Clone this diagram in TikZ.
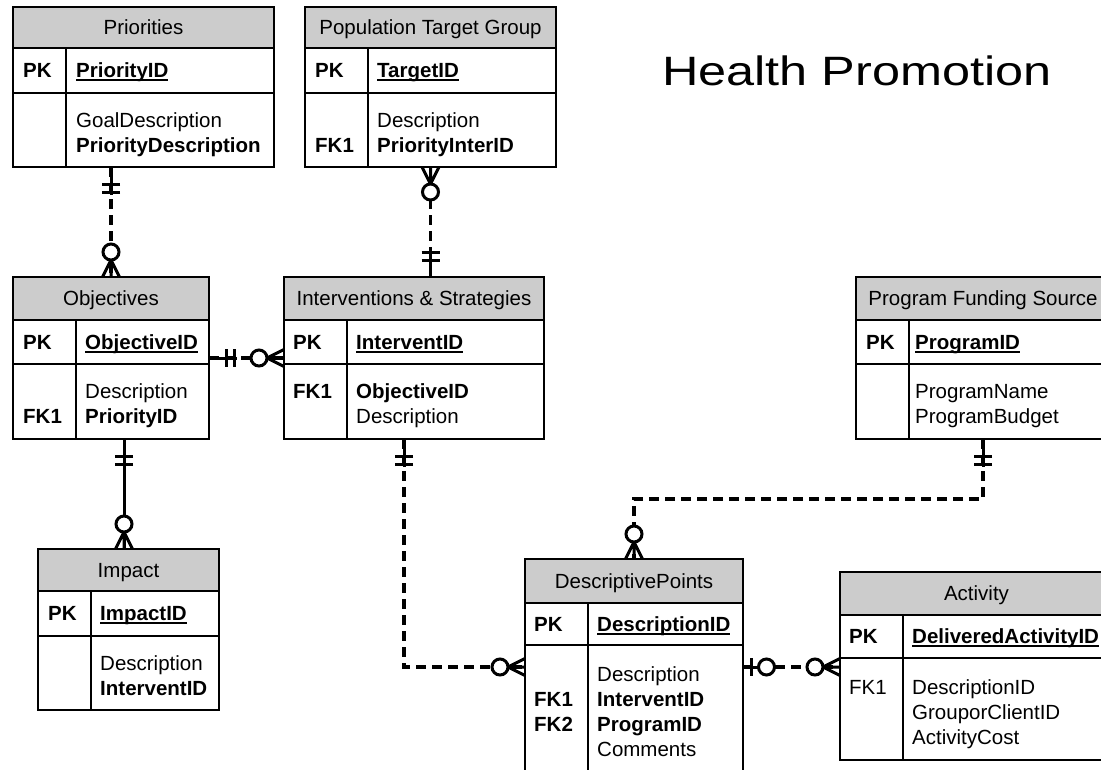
\documentclass[tikz,border=0pt]{standalone}
\usepackage{graphicx}
\usepackage{fontspec}
\setmainfont{Liberation Sans}
\usetikzlibrary{fit}
\newcommand\ulx[1]{\setbox0\hbox{#1}\rlap{\rule[-3.2pt]{\wd0}{1.8pt}}\box0}
\newcommand\mkentity[9]{%
  \node[hdr, fit={(#2,#3)(#4,#6)}] (#1-h) {};
  \node[ebox, fit={(#2,#3)(#4,#5)}] (#1) {};
  \draw[div] (#2,#6) -- (#4,#6) (#2,#7) -- (#4,#7) (#8,#6) -- (#8,#5);
  \node[ttl] (#1-t) at ({(#2+#4)/2},{(#3+#6)/2+7.3}) {#9};
}
\newcommand\tx[4]{\node[txt] (#1) at (#2,#3) {#4};}
\newcommand\symOneOne[2]{\begin{scope}[shift={(#1)},rotate=#2]
  \draw[sym] (0,0) -- (28,0) (17,-9) -- (17,9) (25,-9) -- (25,9);\end{scope}}
\newcommand\symZeroMany[2]{\begin{scope}[shift={(#1)},rotate=#2]
  \draw[sym] (0,-8.5) -- (17,0) -- (0,8.5) (0,0) -- (17,0);
  \draw[sym,fill=white] (25,0) circle[radius=8pt];\end{scope}}
\newcommand\symZeroOne[2]{\begin{scope}[shift={(#1)},rotate=#2]
  \draw[sym] (0,0) -- (15,0) (8,-9) -- (8,9);
  \draw[sym,fill=white] (23.5,0) circle[radius=8pt];\end{scope}}
\begin{document}
\begin{tikzpicture}[x=1pt,y=-1pt,
  hdr/.style={draw, fill=black!20, line width=2.1pt, inner sep=0pt, outer sep=0pt},
  ebox/.style={draw, line width=2.1pt, inner sep=0pt, outer sep=0pt},
  div/.style={line width=2.1pt},
  ttl/.style={font=\fontsize{20.5}{25}\selectfont, inner sep=0pt, anchor=base},
  txt/.style={font=\fontsize{20.5}{25}\selectfont, inner sep=0pt, anchor=base west},
  sym/.style={line width=3pt},
  rel/.style={line width=3.3pt, dash pattern=on 10pt off 6pt},
  solidrel/.style={line width=3pt}]
\useasboundingbox (0,0) rectangle (1101,769);
\clip (0,0) rectangle (1101,769);

% entities: name, x1, y1, x2, y2, header bottom, pk bottom, divider x, title
\mkentity{pri}{13}{7}{274}{167}{48}{93}{66}{Priorities}
\mkentity{ptg}{305}{7}{556}{167}{48}{93}{368}{Population Target Group}
\mkentity{obj}{13}{277}{209}{439}{320}{364}{76}{Objectives}
\mkentity{int}{284}{277}{544}{439}{320}{364}{347}{Interventions \& Strategies}
\mkentity{pfs}{856}{277}{1110}{439}{320}{364}{909}{Program Funding Source}
\mkentity{imp}{38}{549}{219}{710}{591}{636}{91}{Impact}
\mkentity{dp}{525}{559}{743}{800}{603}{645}{588}{DescriptivePoints}
\mkentity{act}{840}{572}{1113}{760}{615}{658}{903}{Activity}

% Priorities
\tx{pri-k}{23}{77.8}{\textbf{PK}}
\tx{pri-f0}{76}{77.8}{\ulx{\textbf{PriorityID}}}
\tx{pri-f1}{76}{127}{GoalDescription}
\tx{pri-f2}{76}{152}{\textbf{PriorityDescription}}
% Population Target Group
\tx{ptg-k}{315}{77.8}{\textbf{PK}}
\tx{ptg-f0}{377}{77.8}{\ulx{\textbf{TargetID}}}
\tx{ptg-f1}{377}{127}{Description}
\tx{ptg-k2}{315}{152}{\textbf{FK1}}
\tx{ptg-f2}{377}{152}{\textbf{PriorityInterID}}
% Objectives
\tx{obj-k}{23}{349.3}{\textbf{PK}}
\tx{obj-f0}{85}{349.3}{\ulx{\textbf{ObjectiveID}}}
\tx{obj-f1}{85}{398}{Description}
\tx{obj-k2}{23}{423}{\textbf{FK1}}
\tx{obj-f2}{85}{423}{\textbf{PriorityID}}
% Interventions
\tx{int-k}{293}{349.3}{\textbf{PK}}
\tx{int-f0}{356}{349.3}{\ulx{\textbf{InterventID}}}
\tx{int-k1}{293}{398}{\textbf{FK1}}
\tx{int-f1}{356}{398}{\textbf{ObjectiveID}}
\tx{int-f2}{356}{423}{Description}
% Program Funding Source
\tx{pfs-k}{866}{349.3}{\textbf{PK}}
\tx{pfs-f0}{915}{349.3}{\ulx{\textbf{ProgramID}}}
\tx{pfs-f1}{915}{398}{ProgramName}
\tx{pfs-f2}{915}{423}{ProgramBudget}
% Impact
\tx{imp-k}{48}{620.8}{\textbf{PK}}
\tx{imp-f0}{100}{620.8}{\ulx{\textbf{ImpactID}}}
\tx{imp-f1}{100}{670}{Description}
\tx{imp-f2}{100}{695}{\textbf{InterventID}}
% DescriptivePoints
\tx{dp-k}{534}{631.3}{\textbf{PK}}
\tx{dp-f0}{597}{631.3}{\ulx{\textbf{DescriptionID}}}
\tx{dp-f1}{597}{681}{Description}
\tx{dp-k2}{534}{706}{\textbf{FK1}}
\tx{dp-f2}{597}{706}{\textbf{InterventID}}
\tx{dp-k3}{534}{731}{\textbf{FK2}}
\tx{dp-f3}{597}{731}{\textbf{ProgramID}}
\tx{dp-f4}{597}{756}{Comments}
% Activity
\tx{act-k}{849}{643.8}{\textbf{PK}}
\tx{act-f0}{912}{643.8}{\ulx{\textbf{DeliveredActivityID}}}
\tx{act-k1}{849}{694}{FK1}
\tx{act-f1}{912}{694}{DescriptionID}
\tx{act-f2}{912}{719}{GrouporClientID}
\tx{act-f3}{912}{744}{ActivityCost}

% title
\node[font=\fontsize{41}{49}\selectfont, anchor=base, inner sep=0pt] (title) at (857,85) {\scalebox{1.23}[1]{Health Promotion}};

% connectors
% Priorities - Objectives
\coordinate (c1a) at (obj.north |- pri.south);
\draw[rel] (c1a) -- (obj.north);
\symOneOne{c1a}{-90}
\symZeroMany{obj.north}{90}
% Population Target Group - Interventions
\coordinate (c2b) at (ptg.south |- int.north);
\draw[rel] (ptg.south) -- (c2b);
\symZeroMany{ptg.south}{-90}
\symOneOne{c2b}{90}
% Objectives - Interventions
\coordinate (c3b) at (obj.east -| int.west);
\draw[rel] (obj.east) -- (c3b);
\symOneOne{obj.east}{0}
\symZeroMany{c3b}{180}
% Objectives - Impact
\coordinate (c4a) at ([xshift=13pt]obj.south);
\coordinate (c4b) at (c4a |- imp.north);
\draw[solidrel] (c4a) -- (c4b);
\symOneOne{c4a}{-90}
\symZeroMany{c4b}{90}
% Interventions - DescriptivePoints
\coordinate (c5a) at ([xshift=-10pt]int.south);
\coordinate (c5e) at ([yshift=-108pt]dp.north west);
\draw[rel] (c5a) |- (c5e);
\symOneOne{c5a}{-90}
\symZeroMany{c5e}{180}
% Program Funding Source - DescriptivePoints
\coordinate (c6m) at ([yshift=60pt]dp.north);
\draw[rel] (pfs.south) |- (c6m) -- (dp.north);
\symOneOne{pfs.south}{-90}
\symZeroMany{dp.north}{90}
% DescriptivePoints - Activity
\coordinate (c7a) at (c5e -| dp.east);
\coordinate (c7b) at (c5e -| act.west);
\draw[rel] (c7a) -- (c7b);
\symZeroOne{c7a}{0}
\symZeroMany{c7b}{180}
\end{tikzpicture}
\end{document}
